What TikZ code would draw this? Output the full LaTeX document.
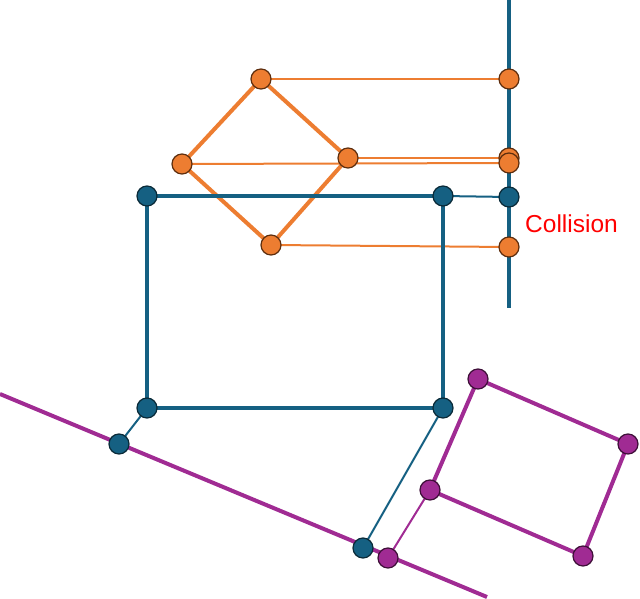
\documentclass[tikz,border=0pt]{standalone}
\usepackage{fontspec}
\setmainfont{Liberation Sans}
\usetikzlibrary{backgrounds}
\definecolor{cor}{HTML}{ED7D31}
\definecolor{corD}{HTML}{5E2E0E}
\definecolor{cbl}{HTML}{156082}
\definecolor{cblD}{HTML}{0A2A38}
\definecolor{cpu}{HTML}{A02B93}
\definecolor{cpuD}{HTML}{3E0F38}
\begin{document}
\begin{tikzpicture}[x=1pt,y=-1pt,
  pt/.style={circle,draw=#1D,line width=1.2pt,fill=#1,inner sep=0pt,minimum size=20pt},
  thickl/.style={draw=#1,line width=4pt},
  thinl/.style={draw=#1,line width=2pt}]
\useasboundingbox (0,0) rectangle (640,599);
% coordinates
\coordinate (vtop) at (509,0);
\coordinate (vbot) at (509,308);
\coordinate (pl1) at (0,394);
\coordinate (pl2) at (487,597);
% nodes
\node[pt=cor] (ot) at (261,79) {};
\node[pt=cor] (ol) at (182,164) {};
\node[pt=cor] (or) at (348,158) {};
\node[pt=cor] (ob) at (271,245) {};
\node[pt=cor] (vt) at (509,79) {};
\node[pt=cor] (vr) at (509,158) {};
\node[pt=cor] (vl) at (509,163) {};
\node[pt=cor] (vb) at (509,247) {};
\node[pt=cbl] (vbl) at (509,197) {};
\node[pt=cbl] (b1) at (147,196) {};
\node[pt=cbl] (b2) at (443,196) {};
\node[pt=cbl] (b3) at (443,408) {};
\node[pt=cbl] (b4) at (147,408) {};
\node[pt=cbl] (bp1) at (119,444) {};
\node[pt=cbl] (bp2) at (363,548) {};
\node[pt=cpu] (p1) at (478,379) {};
\node[pt=cpu] (p2) at (628,444) {};
\node[pt=cpu] (p3) at (583,556) {};
\node[pt=cpu] (p4) at (430,490) {};
\node[pt=cpu] (pp) at (388,558) {};
\node[text=red,font=\fontsize{24.5}{28}\selectfont,anchor=west,inner sep=0pt] (col) at (525,224) {Collision};
% edges behind nodes
\begin{scope}[on background layer]
\draw[thickl=cbl] (vtop) -- (vbot);
\draw[thickl=cpu] (pl1) -- (pl2);
\draw[thinl=cor] (ot.center) -- (vt.center);
\draw[thinl=cor] (or.center) -- (vr.center);
\draw[thinl=cor] (ol.center) -- (vl.center);
\draw[thinl=cor] (ob.center) -- (vb.center);
\draw[thickl=cor] (ot.center) -- (or.center) -- (ob.center) -- (ol.center) -- cycle;
\draw[thinl=cbl] (b2.center) -- (vbl.center);
\draw[thinl=cbl] (b4.center) -- (bp1.center);
\draw[thinl=cbl] (b3.center) -- (bp2.center);
\draw[thickl=cbl] (b1.center) -- (b2.center) -- (b3.center) -- (b4.center) -- cycle;
\draw[thinl=cpu] (p4.center) -- (pp.center);
\draw[thickl=cpu] (p1.center) -- (p2.center) -- (p3.center) -- (p4.center) -- cycle;
\end{scope}
\end{tikzpicture}
\end{document}
